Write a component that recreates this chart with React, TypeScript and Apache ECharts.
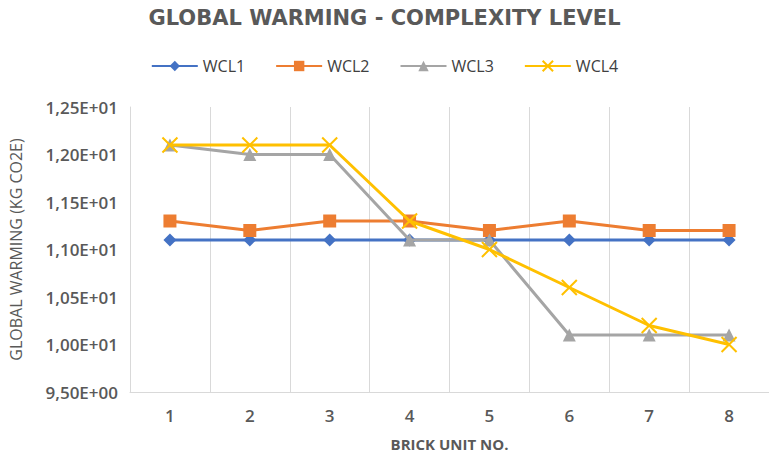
import React, { useEffect, useRef } from "react";
import * as echarts from "echarts";

const categories = ["1", "2", "3", "4", "5", "6", "7", "8"];
const seriesNames = ["WCL1", "WCL2", "WCL3", "WCL4"];
const wcl1 = [11.1, 11.1, 11.1, 11.1, 11.1, 11.1, 11.1, 11.1];
const wcl2 = [11.3, 11.2, 11.3, 11.3, 11.2, 11.3, 11.2, 11.2];
const wcl3 = [12.1, 12.0, 12.0, 11.1, 11.1, 10.1, 10.1, 10.1];
const wcl4 = [12.1, 12.1, 12.1, 11.3, 11.0, 10.6, 10.2, 10.0];
const colors = ["#4472C4", "#ED7D31", "#A5A5A5", "#FFC000"];

function fmt(v: number): string {
  if (v >= 10) return (v / 10).toFixed(2).replace(".", ",") + "E+01";
  return v.toFixed(2).replace(".", ",") + "E+00";
}

export default function App() {
  const ref = useRef<HTMLDivElement>(null);
  useEffect(() => {
    if (!ref.current) return;
    const chart = echarts.init(ref.current, null, { renderer: "svg" });
    const data = [wcl1, wcl2, wcl3, wcl4];
    const symbols = ["diamond", "rect", "triangle", "path://M0,0 L10,10 M10,0 L0,10"];
    const sizes = [13, 13, 13, 15];
    chart.setOption({
      animation: false,
      backgroundColor: "#ffffff",
      title: {
        text: "GLOBAL WARMING - COMPLEXITY LEVEL",
        left: "center",
        top: 2,
        textStyle: {
          fontFamily: "DejaVu Sans",
          fontWeight: "bold",
          fontSize: 21,
          color: "#595959",
        },
      },
      legend: {
        top: 53,
        left: "center",
        itemWidth: 46,
        itemHeight: 13,
        itemGap: 30,
        data: seriesNames,
        textStyle: {
          fontFamily: "Open Sans",
          fontSize: 16,
          color: "#404040",
        },
      },
      grid: { left: 130, right: -5, top: 107, bottom: 64, containLabel: false },
      xAxis: {
        type: "category",
        data: categories,
        boundaryGap: true,
        name: "BRICK UNIT NO.",
        nameLocation: "middle",
        nameGap: 44,
        nameTextStyle: {
          fontFamily: "Open Sans",
          fontWeight: "bold",
          fontSize: 15,
          color: "#595959",
        },
        axisLine: { show: true, lineStyle: { color: "#D9D9D9", width: 1 } },
        axisTick: { show: false },
        axisLabel: {
          margin: 15,
          fontFamily: "Open Sans",
          fontWeight: 600,
          fontSize: 17,
          color: "#595959",
        },
        splitLine: { show: true, lineStyle: { color: "#D9D9D9", width: 1 } },
      },
      yAxis: {
        type: "value",
        min: 9.5,
        max: 12.5,
        interval: 0.5,
        name: "GLOBAL WARMING (KG CO2E)",
        nameLocation: "middle",
        nameGap: 106,
        nameTextStyle: {
          fontFamily: "Open Sans",
          fontSize: 16,
          color: "#595959",
        },
        axisLine: { show: true, lineStyle: { color: "#D9D9D9", width: 1 } },
        axisTick: { show: false },
        splitLine: { show: false },
        axisLabel: {
          margin: 12,
          fontFamily: "Open Sans",
          fontWeight: 600,
          fontSize: 17,
          color: "#595959",
          formatter: (v: number) => fmt(v),
        },
      },
      series: seriesNames.map((name, i) => ({
        name,
        type: "line",
        data: data[i],
        symbol: symbols[i],
        symbolSize: sizes[i],
        showAllSymbol: true,
        lineStyle: { color: colors[i], width: 3 },
        itemStyle:
          i === 3
            ? { color: colors[i], borderColor: colors[i], borderWidth: 2 }
            : { color: colors[i], borderWidth: 0 },
        z: 2 + i,
      })),
    });
    return () => chart.dispose();
  }, []);
  return (
    <div
      ref={ref}
      style={{ position: "absolute", left: 0, top: 0, width: 769, height: 456 }}
    />
  );
}
